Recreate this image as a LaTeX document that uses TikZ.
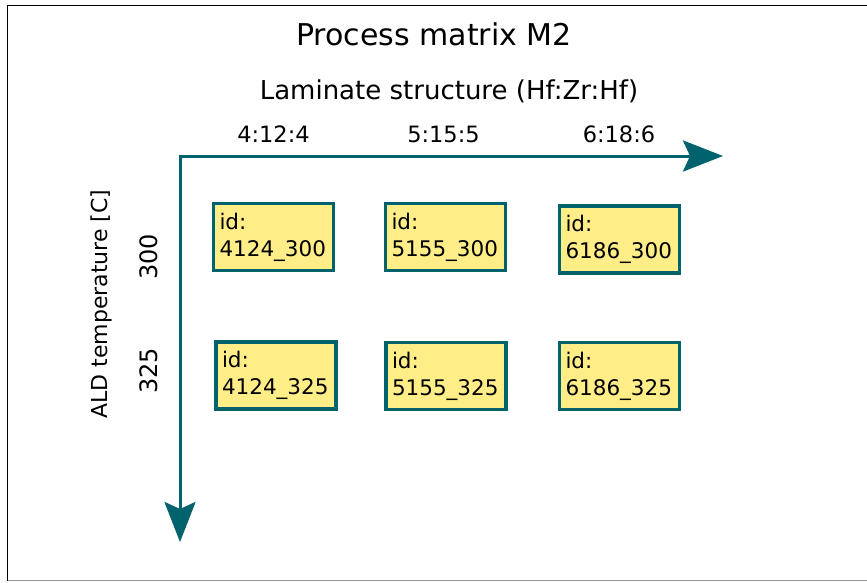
\documentclass[tikz,border=0pt]{standalone}
\usepackage{fontspec}
\setmainfont{DejaVu Sans}
\usetikzlibrary{arrows.meta}
\definecolor{teal1}{RGB}{0,98,108}
\definecolor{boxyellow}{RGB}{255,237,136}
\definecolor{framegray}{RGB}{150,150,150}
\tikzset{
  axis/.style={draw=teal1, line width=3pt,
    {Stealth[length=40pt,width=31pt,inset=7pt]}-{Stealth[length=40pt,width=31pt,inset=7pt]}},
  idbox/.style={draw=teal1, fill=boxyellow, line width=3.8pt, rectangle,
    text width=108pt, inner xsep=6pt, inner ysep=0pt, minimum height=67pt,
    align=left, font=\fontsize{21.5}{27}\selectfont},
  collabel/.style={anchor=base, font=\fontsize{22.5}{26}\selectfont, inner sep=0pt},
  rowlabel/.style={anchor=base, rotate=90, font=\fontsize{24}{28}\selectfont, inner sep=0pt},
}
\begin{document}
\begin{tikzpicture}[x=1pt,y=-1pt]
\useasboundingbox (0,0) rectangle (867,582);
% frame
\draw[black, line width=1pt] (867,5.5) -- (7.5,5.5) -- (7.5,580.5);
\draw[framegray, line width=1pt] (7.5,580.5) -- (867,580.5);
% texts
\node[anchor=base, inner sep=0pt, font=\fontsize{30}{34}\selectfont] (title) at (434,45) {Process matrix M2};
\node[anchor=base, inner sep=0pt, font=\fontsize{26}{30}\selectfont] (lam) at (449,99) {Laminate structure (Hf:Zr:Hf)};
\node[collabel] (c1) at (273.5,142) {4:12:4};
\node[collabel] (c2) at (443.5,142) {5:15:5};
\node[collabel] (c3) at (619,142) {6:18:6};
\node[anchor=base, rotate=90, inner sep=0pt, font=\fontsize{22}{26}\selectfont] (ald) at (107,304) {ALD temperature [C]};
\node[rowlabel] (r1) at (157,257) {300};
\node[rowlabel] (r2) at (157,371) {325};
% axes
\coordinate (o) at (180,156);
\coordinate (hend) at (723,156);
\coordinate (vend) at (180,542);
\draw[axis] (hend) -- (o) -- (vend);
% boxes
\node[idbox] (b1) at (273.5,237) {id:\\4124\_300};
\node[idbox] (b2) at (445.5,237) {id:\\5155\_300};
\node[idbox] (b3) at (619.5,239.5) {id:\\6186\_300};
\node[idbox] (b4) at (276,375.5) {id:\\4124\_325};
\node[idbox] (b5) at (446,376) {id:\\5155\_325};
\node[idbox] (b6) at (619.5,376) {id:\\6186\_325};
\end{tikzpicture}
\end{document}
